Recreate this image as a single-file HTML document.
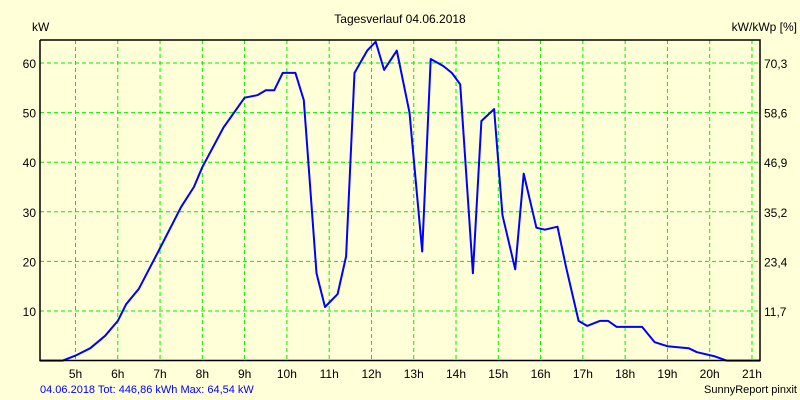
<!DOCTYPE html>
<html><head><meta charset="utf-8"><style>
body{margin:0;background:#ffffd8;}
svg{display:block;font-family:"Liberation Sans",sans-serif;}
</style></head><body>
<svg id="c" width="800" height="400">
<rect width="800" height="400" fill="#ffffd8"/>
<text x="400" y="23" font-size="12" text-anchor="middle">Tagesverlauf 04.06.2018</text>
<text x="32" y="31" font-size="12">kW</text>
<text x="797" y="31" font-size="12" text-anchor="end">kW/kWp [%]</text>
<text x="40" y="393" font-size="11" fill="#0000ff">04.06.2018 Tot: 446,86 kWh Max: 64,54 kW</text>
<text x="797" y="393" font-size="11" text-anchor="end">SunnyReport pinxit</text>
<g id="grid"></g>
<g id="ticks"></g>
<polyline id="line" fill="none" stroke="#0000ff" stroke-width="2" stroke-linejoin="round"/>
<polyline points="40,40 40,360.5 760,360.5 760,40 40,40" fill="none" stroke="#000" stroke-width="1.5"/>
</svg>
<script>
const hours=[4.16,4.7,5.0,5.35,5.7,6.0,6.2,6.5,7.0,7.5,7.8,8.0,8.5,9.0,9.3,9.5,9.7,9.9,10.2,10.4,10.7,10.9,11.2,11.4,11.6,11.9,12.1,12.3,12.6,12.9,13.2,13.4,13.7,13.9,14.1,14.4,14.6,14.9,15.1,15.4,15.6,15.9,16.1,16.4,16.6,16.9,17.1,17.4,17.6,17.8,18.4,18.7,19.0,19.5,19.7,20.1,20.4,21.19];
const power=[0,0,1.0,2.5,5,8,11.4,14.5,22.7,31,35,39,47,53,53.5,54.5,54.5,58,58,52.5,17.6,10.8,13.4,21,58,62.5,64.3,58.6,62.5,50,22,60.8,59.4,58,55.7,17.6,48.3,50.7,29.3,18.4,37.7,26.8,26.4,27,19,8,7,8,8,6.8,6.8,3.7,2.9,2.5,1.7,0.9,0,0];
const xTicks=[5,6,7,8,9,10,11,12,13,14,15,16,17,18,19,20,21];
const yTicks=[10,20,30,40,50,60];
const yRightLabels=["11,7","23,4","35,2","46,9","58,6","70,3"];
const X=h=>75.5+(h-5)*42.28;
const Y=v=>360.6-v*4.96;
const ns="http://www.w3.org/2000/svg";
const grid=document.getElementById('grid'),ticks=document.getElementById('ticks');
function mk(tag,attrs,parent){const e=document.createElementNS(ns,tag);for(const k in attrs)e.setAttribute(k,attrs[k]);parent.appendChild(e);return e;}
xTicks.forEach(h=>{
 const l=mk('line',{x1:X(h),x2:X(h),y1:40,y2:360,stroke:'#00ee00','stroke-dasharray':'4,3'},grid);
 
 
 const t=mk('text',{x:X(h),y:378,'font-size':12,'text-anchor':'middle'},ticks);
 t.textContent=h+'h';
 
 
});
yTicks.forEach((v,i)=>{
 const l=mk('line',{x1:40,x2:760,y1:Y(v),y2:Y(v),stroke:'#00ee00','stroke-dasharray':'4,3'},grid);
 
 
 const t=mk('text',{x:36,y:Y(v)+5,'font-size':12,'text-anchor':'end'},ticks);
 t.textContent=v;
 
 
 const r=mk('text',{x:764,y:Y(v)+5,'font-size':12},ticks);
 r.textContent=yRightLabels[i];
 
 
});
document.getElementById('line').setAttribute('points',hours.map((h,i)=>X(h).toFixed(1)+','+Y(power[i]).toFixed(1)).join(' '));
</script>
</body></html>
